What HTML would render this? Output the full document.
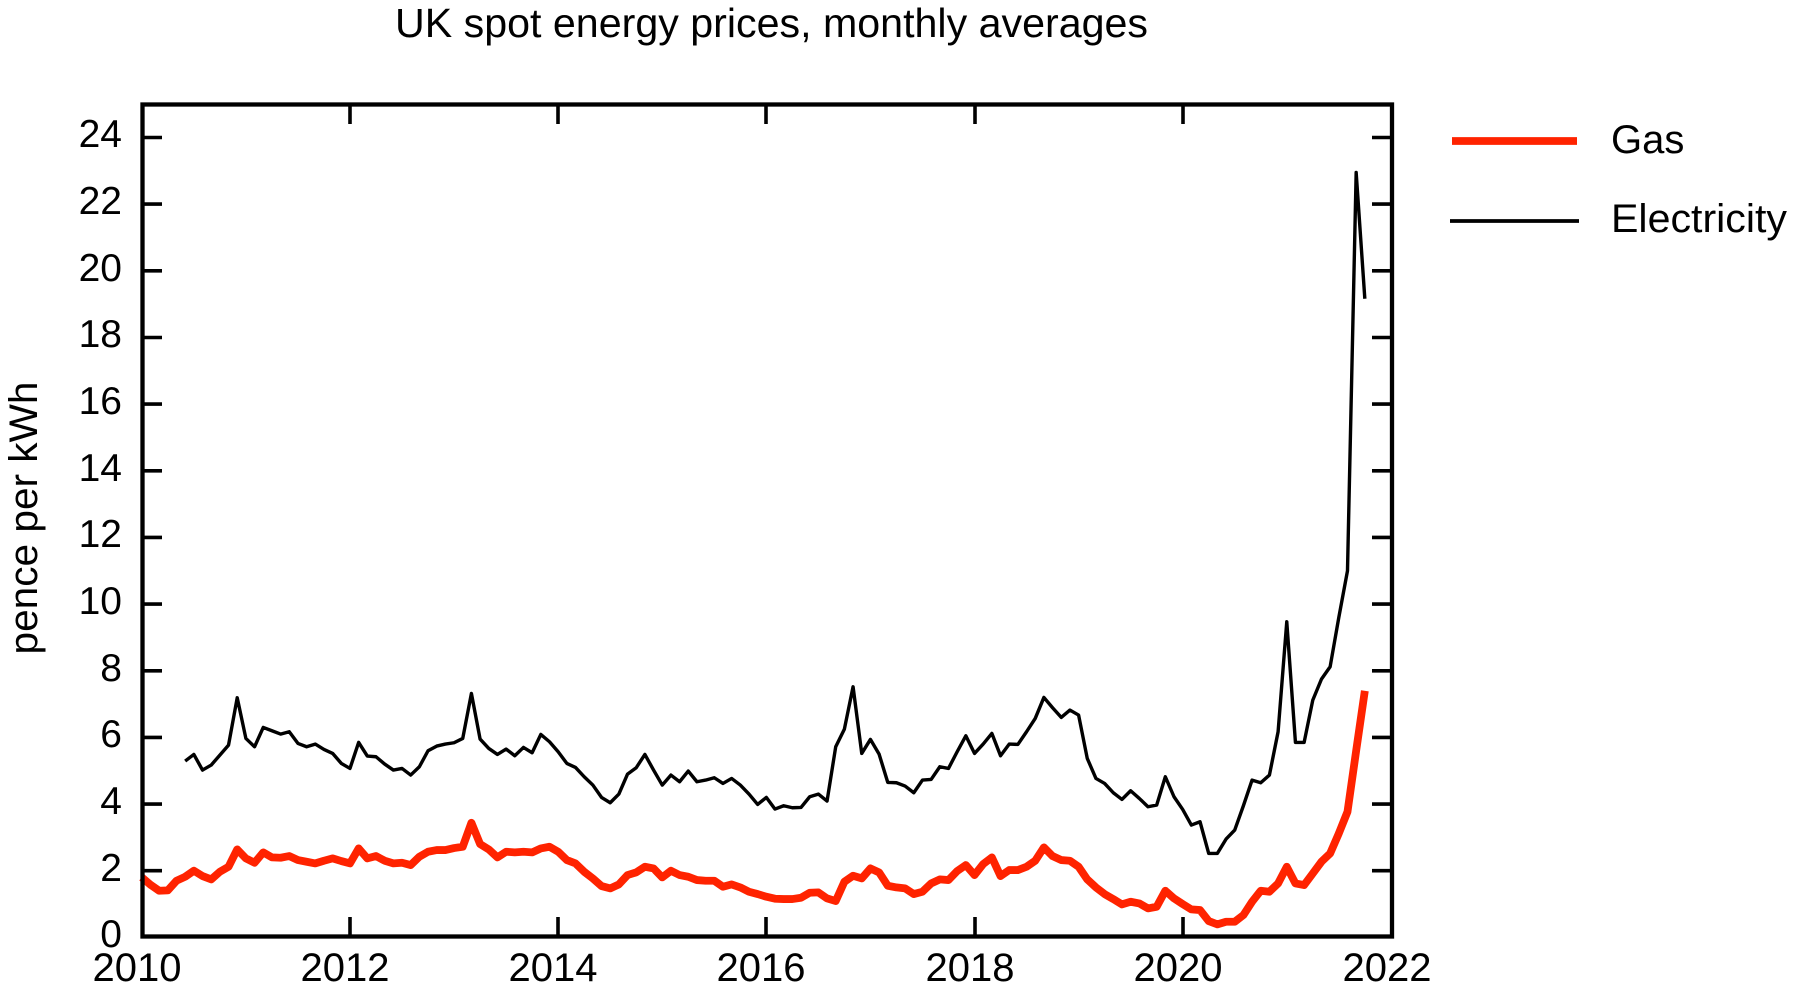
<!DOCTYPE html>
<html>
<head>
<meta charset="utf-8">
<style>
  html, body { margin: 0; padding: 0; background: #ffffff; }
  svg { display: block; }
  text { font-family: "Liberation Sans", Arial, Helvetica, sans-serif; fill: #000; }
</style>
</head>
<body>
<svg width="1806" height="1000" viewBox="0 0 1806 1000" xmlns="http://www.w3.org/2000/svg">
  <rect x="0" y="0" width="1806" height="1000" fill="#ffffff"/>

  <!-- Title -->
  <text x="395" y="37" font-size="41" textLength="753" lengthAdjust="spacingAndGlyphs">UK spot energy prices, monthly averages</text>

  <!-- Y axis label -->
  <text transform="translate(37,518) rotate(-90)" text-anchor="middle" font-size="40" textLength="273" lengthAdjust="spacingAndGlyphs">pence per kWh</text>

  <!-- Data series (data coords: month index, value) -->
  <g transform="matrix(8.674 0 0 -33.33 141.8 937.4)">
    <polyline fill="none" stroke="#000000" stroke-width="3.4" stroke-linejoin="round" stroke-linecap="butt" vector-effect="non-scaling-stroke"
      points="5,5.29 6,5.49 7,5.02 8,5.17 9,5.47 10,5.77 11,7.19 12,5.97 13,5.72 14,6.30 15,6.20 16,6.10 17,6.17 18,5.82 19,5.72 20,5.80 21,5.64 22,5.52 23,5.22 24,5.07 25,5.85 26,5.44 27,5.42 28,5.20 29,5.02 30,5.07 31,4.87 32,5.12 33,5.60 34,5.74 35,5.80 36,5.84 37,5.97 38,7.32 39,5.95 40,5.67 41,5.49 42,5.65 43,5.45 44,5.70 45,5.54 46,6.09 47,5.87 48,5.57 49,5.22 50,5.10 51,4.82 52,4.57 53,4.20 54,4.04 55,4.30 56,4.90 57,5.09 58,5.49 59,5.02 60,4.57 61,4.87 62,4.67 63,4.99 64,4.67 65,4.72 66,4.79 67,4.62 68,4.77 69,4.57 70,4.30 71,3.99 72,4.20 73,3.85 74,3.95 75,3.89 76,3.90 77,4.22 78,4.30 79,4.09 80,5.72 81,6.25 82,7.52 83,5.52 84,5.94 85,5.50 86,4.65 87,4.64 88,4.54 89,4.34 90,4.72 91,4.74 92,5.12 93,5.07 94,5.57 95,6.05 96,5.52 97,5.80 98,6.12 99,5.45 100,5.80 101,5.79 102,6.17 103,6.57 104,7.20 105,6.89 106,6.60 107,6.82 108,6.67 109,5.37 110,4.77 111,4.62 112,4.34 113,4.14 114,4.40 115,4.17 116,3.92 117,3.97 118,4.82 119,4.22 120,3.84 121,3.37 122,3.47 123,2.52 124,2.52 125,2.95 126,3.22 127,3.95 128,4.72 129,4.64 130,4.87 131,6.17 132,9.47 133,5.85 134,5.85 135,7.12 136,7.75 137,8.12 138,9.60 139,11.0 140,22.95 141,19.16"/>
    <polyline fill="none" stroke="#ff2300" stroke-width="7.8" stroke-linejoin="round" stroke-linecap="butt" vector-effect="non-scaling-stroke"
      points="0,1.80 1,1.58 2,1.40 3,1.41 4,1.70 5,1.82 6,2.00 7,1.84 8,1.74 9,1.97 10,2.12 11,2.64 12,2.37 13,2.24 14,2.55 15,2.40 16,2.39 17,2.44 18,2.32 19,2.27 20,2.22 21,2.30 22,2.37 23,2.29 24,2.22 25,2.67 26,2.37 27,2.44 28,2.30 29,2.22 30,2.24 31,2.17 32,2.42 33,2.57 34,2.62 35,2.62 36,2.68 37,2.72 38,3.44 39,2.80 40,2.64 41,2.40 42,2.57 43,2.55 44,2.57 45,2.55 46,2.67 47,2.72 48,2.57 49,2.32 50,2.22 51,1.97 52,1.77 53,1.54 54,1.47 55,1.59 56,1.87 57,1.95 58,2.12 59,2.07 60,1.80 61,2.00 62,1.87 63,1.82 64,1.72 65,1.70 66,1.70 67,1.52 68,1.59 69,1.50 70,1.37 71,1.30 72,1.22 73,1.16 74,1.15 75,1.15 76,1.19 77,1.34 78,1.35 79,1.17 80,1.09 81,1.67 82,1.85 83,1.77 84,2.07 85,1.95 86,1.55 87,1.50 88,1.47 89,1.30 90,1.37 91,1.62 92,1.74 93,1.72 94,1.99 95,2.17 96,1.87 97,2.20 98,2.40 99,1.84 100,2.02 101,2.02 102,2.12 103,2.30 104,2.70 105,2.44 106,2.32 107,2.30 108,2.12 109,1.74 110,1.50 111,1.30 112,1.15 113,0.99 114,1.07 115,1.02 116,0.87 117,0.92 118,1.40 119,1.17 120,1.00 121,0.84 122,0.82 123,0.49 124,0.39 125,0.47 126,0.47 127,0.67 128,1.07 129,1.40 130,1.37 131,1.62 132,2.12 133,1.62 134,1.57 135,1.92 136,2.27 137,2.52 138,3.12 139,3.77 140,5.60 141,7.40"/>
  </g>

  <!-- Axes frame -->
  <rect x="142.5" y="104.5" width="1249.5" height="832" fill="none" stroke="#000" stroke-width="4.3"/>

  <!-- Y ticks (left & right) -->
  <g stroke="#000" stroke-width="3.6">
    <line x1="142" y1="870.7" x2="162" y2="870.7"/><line x1="1372" y1="870.7" x2="1392" y2="870.7"/>
    <line x1="142" y1="804.1" x2="162" y2="804.1"/><line x1="1372" y1="804.1" x2="1392" y2="804.1"/>
    <line x1="142" y1="737.4" x2="162" y2="737.4"/><line x1="1372" y1="737.4" x2="1392" y2="737.4"/>
    <line x1="142" y1="670.8" x2="162" y2="670.8"/><line x1="1372" y1="670.8" x2="1392" y2="670.8"/>
    <line x1="142" y1="604.1" x2="162" y2="604.1"/><line x1="1372" y1="604.1" x2="1392" y2="604.1"/>
    <line x1="142" y1="537.4" x2="162" y2="537.4"/><line x1="1372" y1="537.4" x2="1392" y2="537.4"/>
    <line x1="142" y1="470.8" x2="162" y2="470.8"/><line x1="1372" y1="470.8" x2="1392" y2="470.8"/>
    <line x1="142" y1="404.1" x2="162" y2="404.1"/><line x1="1372" y1="404.1" x2="1392" y2="404.1"/>
    <line x1="142" y1="337.5" x2="162" y2="337.5"/><line x1="1372" y1="337.5" x2="1392" y2="337.5"/>
    <line x1="142" y1="270.8" x2="162" y2="270.8"/><line x1="1372" y1="270.8" x2="1392" y2="270.8"/>
    <line x1="142" y1="204.1" x2="162" y2="204.1"/><line x1="1372" y1="204.1" x2="1392" y2="204.1"/>
    <line x1="142" y1="137.5" x2="162" y2="137.5"/><line x1="1372" y1="137.5" x2="1392" y2="137.5"/>
  </g>

  <!-- X ticks (top & bottom) -->
  <g stroke="#000" stroke-width="3.6">
    <line x1="350" y1="937" x2="350" y2="917"/><line x1="350" y1="104" x2="350" y2="124"/>
    <line x1="558" y1="937" x2="558" y2="917"/><line x1="558" y1="104" x2="558" y2="124"/>
    <line x1="766" y1="937" x2="766" y2="917"/><line x1="766" y1="104" x2="766" y2="124"/>
    <line x1="975" y1="937" x2="975" y2="917"/><line x1="975" y1="104" x2="975" y2="124"/>
    <line x1="1183" y1="937" x2="1183" y2="917"/><line x1="1183" y1="104" x2="1183" y2="124"/>
  </g>

  <!-- Y tick labels -->
  <g font-size="39" text-anchor="end">
    <text x="122" y="947">0</text>
    <text x="122" y="881">2</text>
    <text x="122" y="814">4</text>
    <text x="122" y="747">6</text>
    <text x="122" y="681">8</text>
    <text x="122" y="614">10</text>
    <text x="122" y="547">12</text>
    <text x="122" y="481">14</text>
    <text x="122" y="414">16</text>
    <text x="122" y="347">18</text>
    <text x="122" y="281">20</text>
    <text x="122" y="214">22</text>
    <text x="122" y="147">24</text>
  </g>

  <!-- X tick labels -->
  <g font-size="40" text-anchor="middle">
    <text x="137" y="981">2010</text>
    <text x="345" y="981">2012</text>
    <text x="553" y="981">2014</text>
    <text x="761" y="981">2016</text>
    <text x="970" y="981">2018</text>
    <text x="1178" y="981">2020</text>
    <text x="1387" y="981">2022</text>
  </g>

  <!-- Legend -->
  <line x1="1452" y1="141" x2="1577" y2="141" stroke="#ff2300" stroke-width="7.8"/>
  <text x="1611" y="153" font-size="40">Gas</text>
  <line x1="1450" y1="221" x2="1579" y2="221" stroke="#000" stroke-width="3.8"/>
  <text x="1611" y="232" font-size="40" textLength="176" lengthAdjust="spacingAndGlyphs">Electricity</text>
</svg>
</body>
</html>
